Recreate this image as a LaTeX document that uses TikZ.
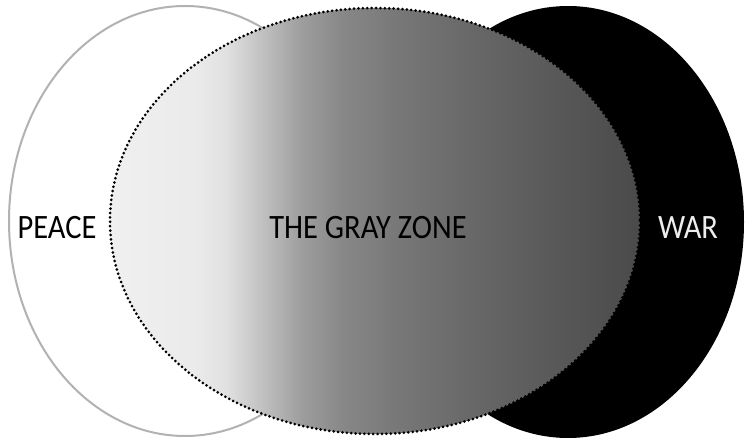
\documentclass[tikz,border=0pt]{standalone}
\usepackage{fontspec}
\setmainfont{Carlito}
\pgfdeclarehorizontalshading{grayzone}{100bp}{%
  color(0bp)=(black!6);
  color(25bp)=(black!6);
  color(33bp)=(black!8);
  color(36bp)=(black!12);
  color(39.5bp)=(black!25);
  color(43bp)=(black!38);
  color(47bp)=(black!47);
  color(52bp)=(black!53);
  color(60bp)=(black!60);
  color(68bp)=(black!66);
  color(75bp)=(black!71);
  color(100bp)=(black!71)}
\tikzset{
  lbl/.style={font=\fontsize{30.5}{36}\selectfont, inner sep=0pt, anchor=center},
  peaceshape/.style={fill=white, draw=black!30, line width=2pt},
  warshape/.style={fill=black},
  zoneborder/.style={draw=black, line width=3pt, line cap=round, dash pattern=on 0pt off 4.4pt}
}
\begin{document}
\begin{tikzpicture}[x=1pt,y=-1pt]
\useasboundingbox[fill=white] (0,0) rectangle (745,443);
% peace
\path[peaceshape] (185,221) ellipse [x radius=176, y radius=215];
% war
\path[warshape] (568,222) ellipse [x radius=176, y radius=216];
% gray zone
\shade[shading=grayzone] (375,221) ellipse [x radius=265, y radius=213];
\path[zoneborder] (375,221) ellipse [x radius=265, y radius=213];
% labels
\node[lbl] (peace) at (57,228) {\scalebox{1}[1.12]{PEACE}};
\node[lbl] (zone) at (368,228) {\scalebox{1}[1.12]{THE GRAY ZONE}};
\node[lbl, text=black!7] (war) at (688,228) {\scalebox{1}[1.12]{WAR}};
\end{tikzpicture}
\end{document}
